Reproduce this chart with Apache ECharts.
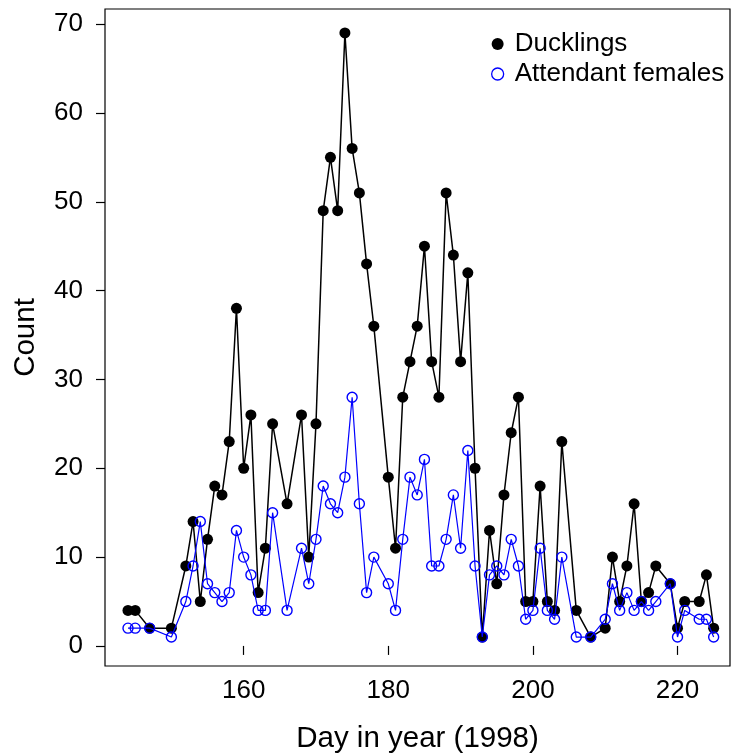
<!DOCTYPE html>
<html>
<head>
<meta charset="utf-8">
<script src="https://cdn.jsdelivr.net/npm/echarts@6/dist/echarts.min.js"></script>
<style>
  html, body { margin: 0; padding: 0; background: #fff; }
  #chart { width: 732px; height: 755px; }
</style>
</head>
<body>
<div id="chart"></div>
<script>
// Survey days (day of year, 1998)
const days = [144,145,147,150,152,153,154,155,156,157,158,159,160,161,162,163,164,166,168,169,
  170,171,172,173,174,175,176,177,178,180,181,182,183,184,185,186,187,188,189,190,
  191,192,193,194,195,196,197,198,199,200,201,202,203,204,206,208,210,211,212,213,
  214,215,216,217,219,220,221,223,224,225];

// Counts of ducklings on each survey day
const ducklings = [4,4,2,2,9,14,5,12,18,17,23,38,20,26,6,11,25,16,26,10,
  25,49,55,49,69,56,51,43,36,19,11,28,32,36,45,32,28,51,44,32,
  42,20,1,13,7,17,24,28,5,5,18,5,4,23,4,1,2,10,5,9,
  16,5,6,9,7,2,5,5,8,2];

// Counts of attendant females on each survey day
const females = [2,2,2,1,5,9,14,7,6,5,6,13,10,8,4,4,15,4,11,7,
  12,18,16,15,19,28,16,6,10,7,4,12,19,17,21,9,9,12,17,11,
  22,9,1,8,9,8,12,9,3,4,11,4,3,10,1,1,3,7,4,6,
  4,5,4,5,7,1,4,3,3,1];

const xTicks = [160, 180, 200, 220];
const yTicks = [0, 10, 20, 30, 40, 50, 60, 70];

const pair = (ys) => days.map((d, i) => [d, ys[i]]);

const FONT = '"Liberation Sans", Arial, sans-serif';

const chart = echarts.init(document.getElementById('chart'), null, { renderer: 'canvas' });

chart.setOption({
  backgroundColor: '#ffffff',
  animation: false,
  grid: {
    left: 105, top: 9, width: 625, height: 657,
    outerBoundsMode: 'none',
    containLabel: false,
    show: true, borderColor: '#000', borderWidth: 1.2, backgroundColor: 'transparent'
  },
  legend: {
    orient: 'vertical',
    left: 486, top: 26,
    itemWidth: 12, itemHeight: 12, itemGap: 4,
    textStyle: { fontFamily: FONT, fontSize: 26, color: '#000', padding: [0, 0, 0, 6] },
    data: [
      { name: 'Ducklings', icon: 'circle',
        itemStyle: { color: '#000', borderWidth: 0 } },
      { name: 'Attendant females', icon: 'circle',
        itemStyle: { color: '#fff', borderColor: '#0000ff', borderWidth: 1.3 } }
    ]
  },
  xAxis: {
    type: 'value',
    min: 140.82, max: 227.26,
    name: 'Day in year (1998)',
    nameLocation: 'middle', nameGap: 58,
    nameTextStyle: { fontFamily: FONT, fontSize: 29.5, color: '#000' },
    axisLine: { show: false },
    axisTick: { show: true, inside: false, length: 9, customValues: xTicks,
      lineStyle: { color: '#000', width: 1.2 } },
    axisLabel: { customValues: xTicks, margin: 12,
      fontFamily: FONT, fontSize: 26, color: '#000' },
    splitLine: { show: false }
  },
  yAxis: {
    type: 'value',
    min: -2.26, max: 71.7,
    name: 'Count',
    nameLocation: 'middle', nameGap: 64,
    nameRotate: 90,
    nameTextStyle: { fontFamily: FONT, fontSize: 29.5, color: '#000' },
    axisLine: { show: false },
    axisTick: { show: true, inside: false, length: 9, customValues: yTicks,
      lineStyle: { color: '#000', width: 1.2 } },
    axisLabel: { customValues: yTicks, margin: 22,
      fontFamily: FONT, fontSize: 26, color: '#000' },
    splitLine: { show: false }
  },
  series: [
    {
      name: 'Ducklings',
      type: 'line',
      data: pair(ducklings),
      symbol: 'circle', symbolSize: 11,
      lineStyle: { color: '#000', width: 1.5 },
      itemStyle: { color: '#000', borderWidth: 0 },
      z: 2
    },
    {
      name: 'Attendant females',
      type: 'line',
      data: pair(females),
      symbol: 'circle', symbolSize: 10,
      lineStyle: { color: '#0000ff', width: 1.2 },
      itemStyle: { color: 'rgba(255,255,255,0)', borderColor: '#0000ff', borderWidth: 1.4 },
      z: 3
    }
  ]
});
</script>
</body>
</html>
